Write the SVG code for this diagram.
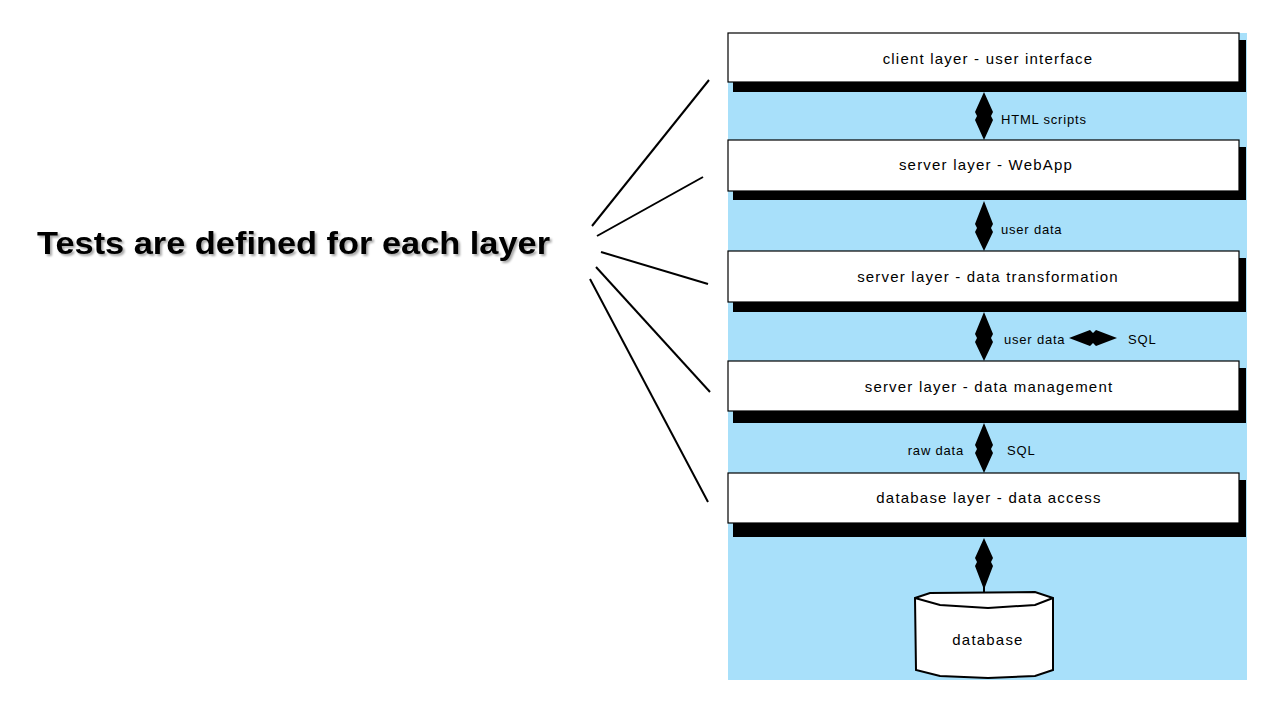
<svg xmlns="http://www.w3.org/2000/svg" width="1274" height="708" viewBox="0 0 1274 708">
<defs>
<style>
.box{fill:#fff;stroke:#000;stroke-width:1.2}
.shadow{fill:#000}
.lbl{font-family:"Liberation Sans",Arial,sans-serif;font-size:15px;fill:#000;text-anchor:middle;letter-spacing:1.2px}
.sm{font-family:"Liberation Sans",Arial,sans-serif;font-size:13px;fill:#000;letter-spacing:0.8px}
.arr{fill:#000}
.line{stroke:#000;stroke-width:2;fill:none}
.title{font-family:"Liberation Sans",Arial,sans-serif;font-size:32px;font-weight:bold;fill:#000}
</style>
<filter id="ts" x="-5%" y="-30%" width="110%" height="160%">
<feDropShadow dx="2" dy="2" stdDeviation="1.2" flood-color="#000" flood-opacity="0.35"/>
</filter>
</defs>
<rect width="1274" height="708" fill="#fff"/>
<text class="title" x="37" y="254" textLength="513" lengthAdjust="spacingAndGlyphs" filter="url(#ts)">Tests are defined for each layer</text>
<rect x="728" y="33" width="519" height="647" fill="#a8e0fa"/>
<g id="connectors">
<line class="line" x1="592" y1="226" x2="709" y2="80"/>
<line class="line" x1="597" y1="236" x2="703" y2="177"/>
<line class="line" x1="601" y1="252" x2="708" y2="284"/>
<line class="line" x1="596" y1="267" x2="710" y2="392"/>
<line class="line" x1="590" y1="279" x2="708" y2="502"/>
<polygon class="arr" points="984,92 993,112 991,116 993,120 984,140 975,120 977,116 975,112"/>
<polygon class="arr" points="984,201 993,224 991,228 993,232 984,251 975,232 977,228 975,224"/>
<polygon class="arr" points="984,312 993,334 991,338 993,342 984,361 975,342 977,338 975,334"/>
<polygon class="arr" points="1069,338 1090,330 1093,333 1096,330 1117,338 1096,346 1093,343 1090,346"/>
<polygon class="arr" points="984,423 993,445 991,449 993,453 984,473 975,453 977,449 975,445"/>
<polygon class="arr" points="984,538 993,558 991,562 993,566 985,587 985,592 983,592 983,587 975,566 977,562 975,558"/>
<text class="sm" x="1001" y="124">HTML scripts</text>
<text class="sm" x="1001" y="234">user data</text>
<text class="sm" x="1004" y="344">user data</text>
<text class="sm" x="1128" y="344">SQL</text>
<text class="sm" x="964" y="455" text-anchor="end">raw data</text>
<text class="sm" x="1007" y="455">SQL</text>
</g>
<g id="n1">
<rect class="shadow" x="733" y="40" width="513" height="52"/>
<rect class="box" x="728" y="33" width="511" height="49"/>
<text class="lbl" x="988" y="64">client layer - user interface</text>
</g>
<g id="n2">
<rect class="shadow" x="733" y="147" width="513" height="53"/>
<rect class="box" x="728" y="140" width="511" height="51"/>
<text class="lbl" x="986" y="170">server layer - WebApp</text>
</g>
<g id="n3">
<rect class="shadow" x="733" y="258" width="513" height="54"/>
<rect class="box" x="728" y="251" width="511" height="51"/>
<text class="lbl" x="988" y="282">server layer - data transformation</text>
</g>
<g id="n4">
<rect class="shadow" x="733" y="368" width="513" height="55"/>
<rect class="box" x="728" y="361" width="511" height="50"/>
<text class="lbl" x="989" y="392">server layer - data management</text>
</g>
<g id="n5">
<rect class="shadow" x="733" y="480" width="513" height="57"/>
<rect class="box" x="728" y="473" width="511" height="50"/>
<text class="lbl" x="989" y="503">database layer - data access</text>
</g>
<g id="db">
<path d="M915,598 L930,593 L1035,592 L1053,598 L1053,670 L1035,676 L988,678 L940,676 L916,670 Z" fill="#fff" stroke="#000" stroke-width="2"/>
<path d="M915,598 L940,605 L988,608 L1035,605 L1053,598" fill="none" stroke="#000" stroke-width="2"/>
<text class="lbl" x="988" y="645">database</text>
</g>
</svg>
